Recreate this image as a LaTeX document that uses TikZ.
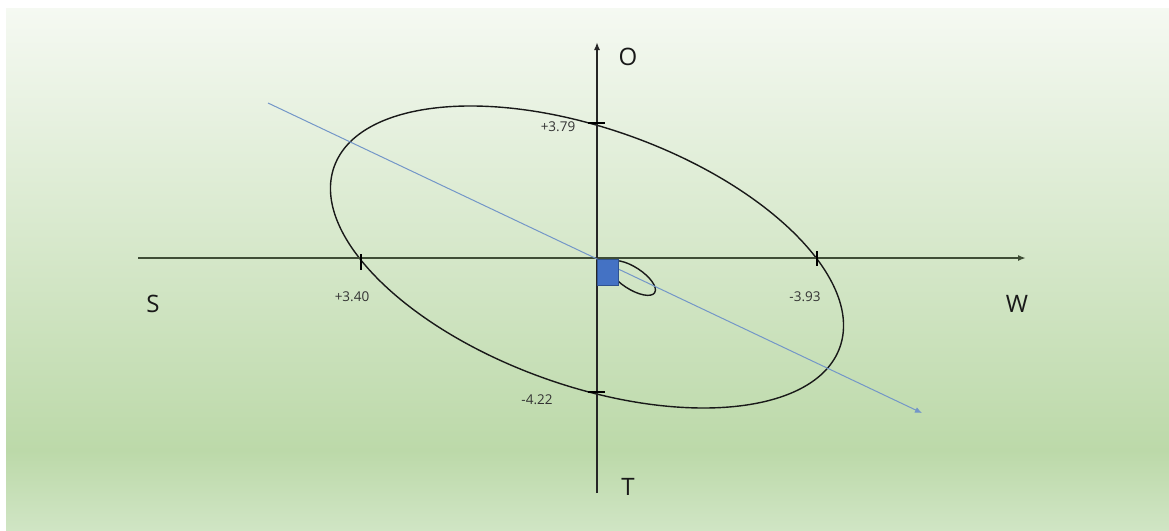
\documentclass[tikz,border=0pt]{standalone}
\usepackage{fontspec}
\setmainfont{Open Sans}
\usetikzlibrary{arrows.meta}
\definecolor{bgtop}{HTML}{F5F9F2}
\definecolor{bggreen}{HTML}{BCD9A9}
\definecolor{bgbot}{HTML}{D0E5C4}
\definecolor{axisdark}{HTML}{3F4D36}
\definecolor{lineblue}{HTML}{7396C8}
\definecolor{boxblue}{HTML}{4472C4}
\definecolor{boxedge}{HTML}{2F528F}
\tikzset{
  haxis/.style={draw=axisdark, line width=2.3pt, -{Latex[length=8pt,width=6pt]}},
  vaxis/.style={draw=black!85, line width=1.6pt, -{Latex[length=8pt,width=6pt]}},
  tickmark/.style={draw=black, line width=2pt},
  bigletter/.style={font=\fontsize{24}{28}\selectfont, text=black!90, inner sep=0pt},
  smalllabel/.style={font=\fontsize{13.5}{16}\selectfont, text=black!80, inner sep=0pt},
  curve/.style={draw=black!90, line width=1.4pt},
  bluearrow/.style={draw=lineblue, line width=1pt, -{Latex[length=7pt,width=6pt]}},
}
\begin{document}
\begin{tikzpicture}[x=1pt,y=-1pt]
\useasboundingbox (0,0) rectangle (1169,530);
% background
\fill[white] (0,0) rectangle (1169,530);
\shade[top color=bgtop, bottom color=bggreen] (6,8) rectangle (1169,451);
\shade[top color=bggreen, bottom color=bgbot] (6,450) rectangle (1169,530);
% coordinates
\coordinate (hstart) at (138,258);
\coordinate (hend) at (1026,258);
\coordinate (vstart) at (597,493);
\coordinate (vend) at (597,42);
\coordinate (c) at (587,257);
\coordinate (bstart) at (268,103);
\coordinate (bend) at (922,413);
% big ellipse
\draw[curve, rotate around={-19.66:(c)}] (c) ellipse [x radius=268.5, y radius=128.5];
% small ellipse
\draw[curve, rotate around={-33:(632,278)}] (632,278) ellipse [x radius=27, y radius=11];
% axes
\draw[haxis] (hstart) -- (hend);
\draw[vaxis] (vstart) -- (vend);
% blue line
\draw[bluearrow] (bstart) -- (bend);
% blue box
\node[draw=boxedge, fill=boxblue, line width=0.6pt, minimum width=21pt, minimum height=26pt, inner sep=0pt, anchor=north west] (box) at (597,259) {};
% ticks
\draw[tickmark] (361,254) -- (361,270);
\draw[tickmark] (817,251) -- (817,266);
\draw[tickmark] (588,123) -- (605,123);
\draw[tickmark] (588,392) -- (605,392);
% labels
\node[bigletter] (lO) at (628,57) {O};
\node[bigletter] (lT) at (628,487) {T};
\node[bigletter] (lS) at (153,304) {S};
\node[bigletter] (lW) at (1017,304) {W};
\node[smalllabel] (l379) at (558,127) {+3.79};
\node[smalllabel] (l340) at (352,297) {+3.40};
\node[smalllabel] (l393) at (805,297) {-3.93};
\node[smalllabel] (l422) at (537,400) {-4.22};
\end{tikzpicture}
\end{document}
